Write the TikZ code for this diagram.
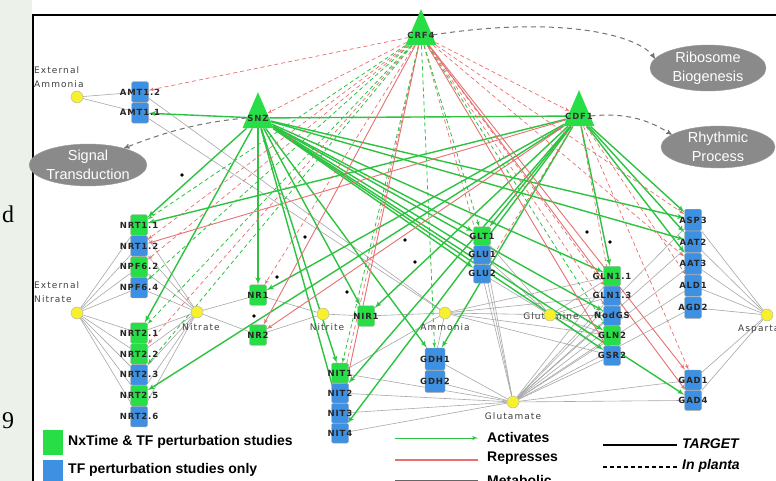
\documentclass[tikz,border=0pt]{standalone}
\usepackage{fontspec}
\setmainfont{Liberation Sans}
\newfontfamily\genefont[LetterSpace=10]{DejaVu Sans}
\newfontfamily\metfont[LetterSpace=12]{DejaVu Sans}
\newfontfamily\pagefont{Liberation Serif}
\usepackage{tikz}
\usetikzlibrary{shapes,arrows,positioning}
\pgfdeclarelayer{paper}
\pgfdeclarelayer{edges}
\pgfsetlayers{paper,edges,main}

\definecolor{nxgreen}{RGB}{40,222,70}
\definecolor{tfblue}{RGB}{62,145,226}
\definecolor{actgreen}{RGB}{45,195,65}
\definecolor{represred}{RGB}{232,112,112}
\definecolor{metgray}{RGB}{168,168,168}
\definecolor{bubble}{RGB}{138,138,138}
\definecolor{metyellow}{RGB}{246,240,45}
\definecolor{pageside}{RGB}{236,241,234}

\tikzstyle{tfbox} = [rectangle, draw=black!35, fill=tfblue, rounded corners=1.5pt,
    minimum width=17pt, minimum height=20.5pt, inner sep=0pt]
\tikzstyle{nxbox} = [tfbox, fill=nxgreen]
\tikzstyle{glbl} = [font=\genefont\bfseries\fontsize{8.5}{9}\selectfont, text=black!85, inner sep=0pt]
\tikzstyle{metab} = [circle, draw=black!30, fill=metyellow, minimum size=12pt, inner sep=0pt]
\tikzstyle{mlbl} = [font=\metfont\fontsize{9}{14}\selectfont, text=black!75, inner sep=0pt]
\tikzstyle{regulator} = [isosceles triangle, isosceles triangle stretches, shape border rotate=90,
    fill=nxgreen, minimum width=31pt, minimum height=36pt, inner sep=0pt]
\tikzstyle{rlbl} = [font=\genefont\bfseries\fontsize{8.5}{9}\selectfont, text=black!80, inner sep=0pt]
\tikzstyle{process} = [ellipse, fill=bubble, draw=black!40, text=white, align=center,
    font=\fontsize{14.5}{19}\selectfont, inner sep=0pt]
\tikzstyle{act} = [draw=actgreen, line width=1.4pt, -latex']
\tikzstyle{actd} = [act, line width=0.8pt, dash pattern=on 4pt off 3pt]
\tikzstyle{rep} = [draw=represred, line width=0.9pt, -latex']
\tikzstyle{repd} = [rep, line width=0.7pt, dash pattern=on 4pt off 3pt]
\tikzstyle{met} = [draw=metgray, line width=0.6pt]
\tikzstyle{goarc} = [draw=black!55, line width=1pt, dash pattern=on 5pt off 4pt, -stealth']
\tikzstyle{legtext} = [font=\bfseries\fontsize{14}{16}\selectfont, anchor=west, inner sep=0pt]

\begin{document}
\begin{tikzpicture}[x=1pt, y=-1pt]
  \useasboundingbox (0,0) rectangle (776,481);
  \clip (0,0) rectangle (776,481);
  \begin{pgfonlayer}{paper}
    \fill[white] (0,0) rectangle (776,481);
    \fill[pageside] (0,0) rectangle (32,481);
    \draw[line width=2pt] (33,15) rectangle (800,520);
  \end{pgfonlayer}
  \node[font=\pagefont\fontsize{24}{24}\selectfont, inner sep=0pt] (pageD) at (8,214) {d};
  \node[font=\pagefont\fontsize{24}{24}\selectfont, inner sep=0pt] (pageN) at (8,421) {9};

  % transcription factors
  \node [regulator, label={[rlbl]center:CRF4}] (crf4) at (421,35) {};
  \node [regulator, label={[rlbl]center:SNZ}] (snz) at (258,118) {};
  \node [regulator, label={[rlbl]center:CDF1}] (cdf1) at (579,116) {};

  % processes
  \node [process, minimum width=116pt, minimum height=42pt] (ribo) at (708,68) {Ribosome\\Biogenesis};
  \node [process, minimum width=114pt, minimum height=40pt] (rhyt) at (718,147) {Rhythmic\\Process};
  \node [process, minimum width=106pt, minimum height=38pt] (sig) at (88,165) {Signal\\Transduction};

  % targets
  \node [tfbox, label={[glbl]center:AMT1.2}] (amt12) at (140,92) {};
  \node [tfbox, below=0pt of amt12, label={[glbl]center:AMT1.1}] (amt11) {};

  \node [nxbox, label={[glbl]center:NRT1.1}] (nrt11) at (139,225) {};
  \node [tfbox, below=0pt of nrt11, label={[glbl]center:NRT1.2}] (nrt12) {};
  \node [nxbox, below=0pt of nrt12, label={[glbl]center:NPF6.2}] (npf62) {};
  \node [tfbox, below=0pt of npf62, label={[glbl]center:NPF6.4}] (npf64) {};

  \node [nxbox, label={[glbl]center:NRT2.1}] (nrt21) at (139,333) {};
  \node [nxbox, below=0pt of nrt21, label={[glbl]center:NRT2.2}] (nrt22) {};
  \node [tfbox, below=0pt of nrt22, label={[glbl]center:NRT2.3}] (nrt23) {};
  \node [nxbox, below=0pt of nrt23, label={[glbl]center:NRT2.5}] (nrt25) {};
  \node [tfbox, below=0pt of nrt25, label={[glbl]center:NRT2.6}] (nrt26) {};

  \node [nxbox, label={[glbl]center:NR1}] (nr1) at (258,295) {};
  \node [nxbox, label={[glbl]center:NR2}] (nr2) at (258,335) {};
  \node [nxbox, label={[glbl]center:NIR1}] (nir1) at (366,316) {};

  \node [nxbox, minimum height=19.7pt, label={[glbl]center:NIT1}] (nit1) at (340,373) {};
  \node [tfbox, minimum height=19.7pt, below=0pt of nit1, label={[glbl]center:NIT2}] (nit2) {};
  \node [tfbox, minimum height=19.7pt, below=0pt of nit2, label={[glbl]center:NIT3}] (nit3) {};
  \node [tfbox, minimum height=19.7pt, below=0pt of nit3, label={[glbl]center:NIT4}] (nit4) {};

  \node [tfbox, minimum width=20pt, minimum height=22pt, label={[glbl]center:GDH1}] (gdh1) at (435,359) {};
  \node [tfbox, minimum width=20pt, minimum height=22pt, below=0pt of gdh1, label={[glbl]center:GDH2}] (gdh2) {};

  \node [nxbox, minimum height=18.5pt, label={[glbl]center:GLT1}] (glt1) at (482,236) {};
  \node [tfbox, minimum height=18.5pt, below=0pt of glt1, label={[glbl]center:GLU1}] (glu1) {};
  \node [tfbox, minimum height=18.5pt, below=0pt of glu1, label={[glbl]center:GLU2}] (glu2) {};

  \node [nxbox, minimum height=19.5pt, label={[glbl]center:GLN1.1}] (gln11) at (612,276) {};
  \node [tfbox, minimum height=19.5pt, below=0pt of gln11, label={[glbl]center:GLN1.3}] (gln13) {};
  \node [tfbox, minimum height=19.5pt, below=0pt of gln13, label={[glbl]center:NodGS}] (nodgs) {};
  \node [nxbox, minimum height=19.5pt, below=0pt of nodgs, label={[glbl]center:GLN2}] (gln2) {};
  \node [tfbox, minimum height=19.5pt, below=0pt of gln2, label={[glbl]center:GSR2}] (gsr2) {};

  \node [tfbox, minimum height=21.5pt, label={[glbl]center:ASP3}] (asp3) at (693,220) {};
  \node [tfbox, minimum height=21.5pt, below=0pt of asp3, label={[glbl]center:AAT2}] (aat2) {};
  \node [tfbox, minimum height=21.5pt, below=0pt of aat2, label={[glbl]center:AAT3}] (aat3) {};
  \node [tfbox, minimum height=21.5pt, below=0pt of aat3, label={[glbl]center:ALD1}] (ald1) {};
  \node [tfbox, minimum height=21.5pt, below=0pt of ald1, label={[glbl]center:AGD2}] (agd2) {};

  \node [tfbox, minimum height=20pt, label={[glbl]center:GAD1}] (gad1) at (693,380) {};
  \node [tfbox, minimum height=20pt, below=0pt of gad1, label={[glbl]center:GAD4}] (gad4) {};

  % metabolites
  \node [metab] (extamm) at (77,97) {};
  \node [mlbl, anchor=north west, align=left] (extammlbl) at (34,66) {External\\Ammonia};
  \node [metab] (extnit) at (77,313) {};
  \node [mlbl, anchor=north west, align=left] (extnitlbl) at (34,281) {External\\Nitrate};
  \node [metab] (nitrate) at (197,312) {};
  \node [mlbl] (nitratelbl) at (201,327) {Nitrate};
  \node [metab] (nitrite) at (323,314) {};
  \node [mlbl] (nitritelbl) at (327,327) {Nitrite};
  \node [metab] (ammonia) at (445,313) {};
  \node [mlbl] (ammonialbl) at (445,327) {Ammonia};
  \node [mlbl] (glutaminelbl) at (551,316) {Glutamine};
  \node [metab] (glutamine) at (550,315) {};
  \node [metab] (glutamate) at (513,402) {};
  \node [mlbl] (glutamatelbl) at (513,416) {Glutamate};
  \node [metab] (aspartate) at (767,315) {};
  \node [mlbl, anchor=west] (aspartatelbl) at (738,329) {Aspartate};

  \begin{pgfonlayer}{edges}
    % metabolic steps
    \foreach \g in {amt12,amt11} {
      \draw [met] (extamm) -- (\g);
      \draw [met] (\g) -- (ammonia);
    }
    \foreach \g in {nrt11,nrt12,npf62,npf64,nrt21,nrt22,nrt23,nrt25,nrt26} {
      \draw [met] (extnit) -- (\g);
      \draw [met] (\g) -- (nitrate);
    }
    \foreach \g in {nr1,nr2} {
      \draw [met] (nitrate) -- (\g);
      \draw [met] (\g) -- (nitrite);
    }
    \draw [met] (nitrite) -- (nir1);
    \draw [met] (nir1) -- (ammonia);
    \draw [met] (ammonia) -- (gdh1);
    \draw [met] (nit1) -- (ammonia);
    \foreach \g in {gdh1,gdh2,nit1,nit2,nit3,nit4} \draw [met] (\g) -- (glutamate);
    \foreach \g in {gln11,gln13,nodgs,gln2,gsr2} {
      \draw [met] (ammonia) -- (\g);
      \draw [met] (\g) -- (glutamine);
      \draw [met] (glutamate) -- (\g);
    }
    \foreach \g in {glt1,glu1,glu2} {
      \draw [met] (glutamine) -- (\g);
      \draw [met] (\g) -- (glutamate);
    }
    \foreach \g in {asp3,aat2,aat3,ald1,agd2,gad1,gad4} {
      \draw [met] (glutamate) -- (\g);
      \draw [met] (\g) -- (aspartate);
    }

    % regulation
    \draw [act, -] (cdf1) -- (snz);
    \foreach \g in {amt11,nrt11,nrt21,nr1,nir1,nit1,nit3,gdh1,glt1,glu2,gln11,nodgs,gln2,gsr2,asp3,aat2,gad4}
      \draw [act] (snz) -- (\g);
    \foreach \g in {nrt11,nrt25,nr1,nir1,nit2,nit4,gdh1,glt1,gln11,asp3,aat2,aat3}
      \draw [act] (cdf1) -- (\g);
    \foreach \g in {nrt12,nr2} \draw [rep] (cdf1) -- (\g);
    \foreach \g in {glu2,gad1,gln13,ald1} \draw [repd] (cdf1) -- (\g);
    \foreach \g in {amt12,snz,cdf1,nrt12,npf62,nrt22,nr1,nit2,glu1,gln13,nodgs,aat3,asp3}
      \draw [repd] (crf4) -- (\g);
    \foreach \g in {nrt11,npf64,nrt21,nrt23,gdh1,glt1,nit1,gln2}
      \draw [actd] (crf4) -- (\g);
    \foreach \g in {nr2,nit3,gad1,gad4,gsr2} \draw [rep] (crf4) -- (\g);

    % processes
    \draw [goarc] (crf4.east) .. controls (560,15) and (640,35) .. (ribo.170);
    \draw [goarc] (cdf1.east) .. controls (630,112) and (652,122) .. (rhyt.165);
    \draw [goarc] (snz.west) .. controls (200,122) and (165,132) .. (sig.25);
  \end{pgfonlayer}

  \foreach \p in {(182,175),(305,237),(405,240),(415,262),(277,277),(347,292),(587,232),(610,242),(254,316)}
    \fill \p circle (1.8pt);

  % legend
  \node [nxbox, rounded corners=0pt, draw=none, minimum width=20pt, minimum height=25pt] (legnx) at (53,442) {};
  \node [legtext] (legnxlbl) at (68,442) {NxTime \& TF perturbation studies};
  \node [tfbox, rounded corners=0pt, draw=none, minimum width=20pt, minimum height=25pt] (legtf) at (53,472) {};
  \node [legtext] (legtflbl) at (68,470) {TF perturbation studies only};
  \coordinate (actA) at (395,438);
  \coordinate (actB) at (478,438);
  \draw [act, line width=1pt] (actA) -- (actB);
  \node [legtext] (actlbl) at (487,437) {Activates};
  \coordinate (repA) at (395,460);
  \coordinate (repB) at (478,460);
  \draw [rep, -, line width=1.4pt] (repA) -- (repB);
  \node [legtext] (replbl) at (487,458) {Represses};
  \coordinate (metA) at (395,481);
  \coordinate (metB) at (478,481);
  \draw [met, line width=1.4pt, draw=black!60] (metA) -- (metB);
  \node [legtext] (metlbl) at (487,480) {Metabolic};
  \coordinate (tgA) at (603,445);
  \coordinate (tgB) at (677,445);
  \draw [line width=1.6pt] (tgA) -- (tgB);
  \node [legtext, font=\bfseries\itshape\fontsize{14}{16}\selectfont] (tglbl) at (682,444) {TARGET};
  \coordinate (ipA) at (603,467);
  \coordinate (ipB) at (677,467);
  \draw [line width=1.6pt, dash pattern=on 4pt off 3pt] (ipA) -- (ipB);
  \node [legtext, font=\bfseries\itshape\fontsize{14}{16}\selectfont] (iplbl) at (682,466) {In planta};
\end{tikzpicture}
\end{document}
